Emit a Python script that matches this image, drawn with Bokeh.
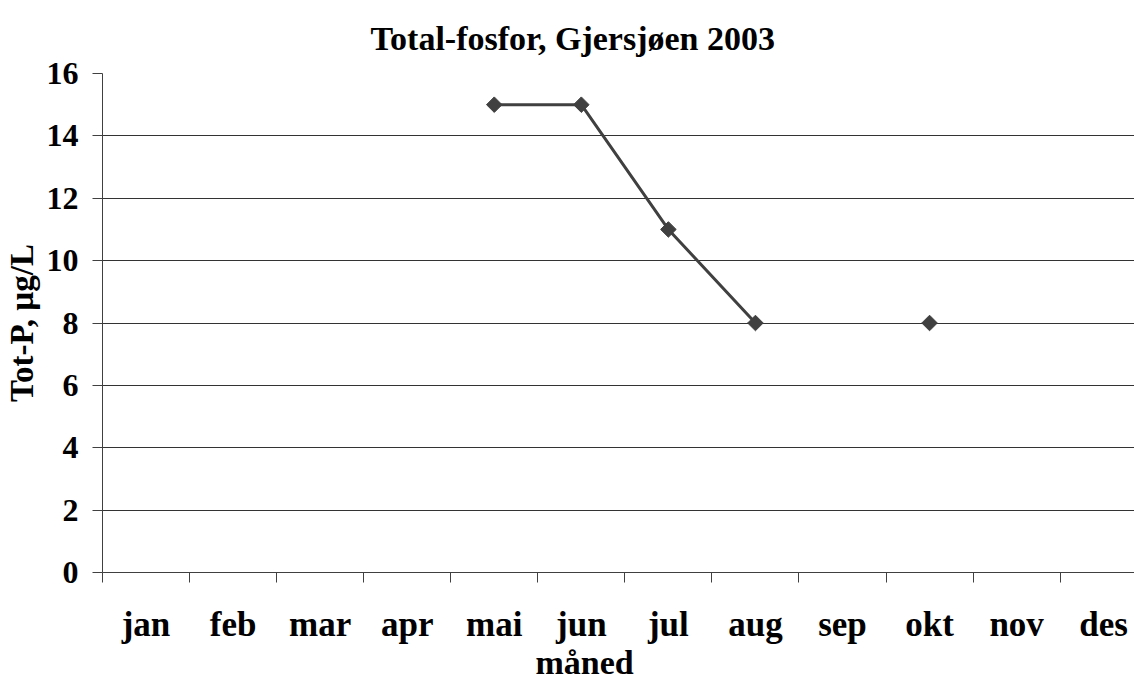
import math
from bokeh.plotting import figure
from bokeh.models import Range1d, FixedTicker, Title
from bokeh.embed import file_html
from bokeh.resources import INLINE

months = ["jan", "feb", "mar", "apr", "mai", "jun", "jul", "aug", "sep", "okt", "nov", "des"]
tot_p = [None, None, None, None, 15, 15, 11, 8, None, 8, None, None]

xs = list(range(len(months)))
ys = [float("nan") if v is None else v for v in tot_p]

FONT = "Liberation Serif"

p = figure(width=1134, height=675, output_backend="svg", toolbar_location=None,
           x_range=Range1d(-0.5, 11.354), y_range=Range1d(0, 16),
           min_border_left=102, min_border_right=0, min_border_top=22, min_border_bottom=0)

p.title.text = "Total-fosfor, Gjersjøen 2003"
p.title.align = "left"
p.title.offset = 268
p.title.text_font = FONT
p.title.text_font_size = "34px"
p.title.text_font_style = "bold"
p.title.text_color = "black"
p.title.standoff = 34

p.outline_line_color = None
p.background_fill_color = "white"
p.border_fill_color = "white"

# y axis
p.yaxis.ticker = FixedTicker(ticks=list(range(0, 17, 2)))
p.yaxis.major_tick_out = 10
p.yaxis.major_tick_in = 0
p.yaxis.minor_tick_line_color = None
p.yaxis.axis_line_color = "#404040"
p.yaxis.major_tick_line_color = "#404040"
p.yaxis.major_label_text_font = FONT
p.yaxis.major_label_text_font_size = "32px"
p.yaxis.major_label_text_font_style = "bold"
p.yaxis.major_label_text_color = "black"
p.yaxis.major_label_standoff = 14
p.yaxis.axis_label = "Tot-P, µg/L"
p.yaxis.axis_label_text_font = FONT
p.yaxis.axis_label_text_font_size = "33px"
p.yaxis.axis_label_text_font_style = "bold"
p.yaxis.axis_label_text_color = "black"
p.yaxis.axis_label_standoff = 4

# x axis
p.xaxis.ticker = FixedTicker(ticks=xs, minor_ticks=[i - 0.5 for i in range(len(months) + 1)])
p.xaxis.major_label_overrides = {i: m for i, m in enumerate(months)}
p.xaxis.major_tick_line_color = None
p.xaxis.minor_tick_out = 10
p.xaxis.minor_tick_in = 0
p.xaxis.minor_tick_line_color = "#404040"
p.xaxis.axis_line_color = "#404040"
p.xaxis.major_label_text_font = FONT
p.xaxis.major_label_text_font_size = "35px"
p.xaxis.major_label_text_font_style = "bold"
p.xaxis.major_label_text_color = "black"
p.xaxis.major_label_standoff = 22

p.add_layout(Title(text="måned", align="left", offset=433, text_font=FONT,
                   text_font_size="34px", text_font_style="bold", text_color="black",
                   standoff=-10), "below")

p.xgrid.grid_line_color = None
p.ygrid.ticker = FixedTicker(ticks=list(range(2, 17, 2)))
p.ygrid.grid_line_color = "#333333"
p.ygrid.grid_line_width = 1

p.line(xs, ys, line_color="#404040", line_width=3)
p.scatter(xs, ys, marker="square", angle=math.pi / 4, size=11,
          fill_color="#404040", line_color="#404040")

open("out.html", "w").write(file_html(p, INLINE))
